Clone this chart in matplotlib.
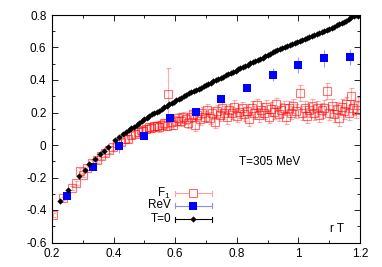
import matplotlib
matplotlib.use("Agg")
import matplotlib.pyplot as plt
from matplotlib.ticker import MultipleLocator, FuncFormatter
from matplotlib.lines import Line2D

plt.rcParams['font.family'] = ['Liberation Sans', 'DejaVu Sans']

# T=0 data
t0_r = [0.226, 0.251, 0.288, 0.306, 0.321, 0.340, 0.356, 0.369, 0.383, 0.405, 0.418, 0.431,
        0.440, 0.449, 0.458, 0.466, 0.475, 0.483, 0.492, 0.500, 0.508, 0.516, 0.524, 0.532,
        0.540, 0.548, 0.556, 0.564, 0.572, 0.580, 0.588, 0.596, 0.604, 0.612, 0.620, 0.628,
        0.636, 0.644, 0.652, 0.660, 0.668, 0.676, 0.684, 0.692, 0.700, 0.708, 0.716, 0.724,
        0.732, 0.740, 0.748, 0.756, 0.764, 0.772, 0.780, 0.788, 0.796, 0.804, 0.812, 0.820,
        0.828, 0.836, 0.844, 0.852, 0.860, 0.868, 0.876, 0.884, 0.892, 0.900, 0.908, 0.916,
        0.924, 0.932, 0.940, 0.948, 0.956, 0.964, 0.972, 0.980, 0.988, 0.996, 1.004, 1.012,
        1.020, 1.028, 1.036, 1.044, 1.052, 1.060, 1.068, 1.076, 1.084, 1.092, 1.100, 1.108,
        1.116, 1.124, 1.132, 1.140, 1.148, 1.156, 1.164, 1.172, 1.180, 1.186, 1.192]
t0_v = [-0.345, -0.279, -0.189, -0.152, -0.119, -0.086, -0.057, -0.035, -0.010, 0.031, 0.051, 0.070,
        0.082, 0.094, 0.106, 0.112, 0.126, 0.136, 0.148, 0.158, 0.165, 0.178, 0.188, 0.196,
        0.205, 0.212, 0.224, 0.232, 0.240, 0.250, 0.259, 0.266, 0.276, 0.284, 0.292, 0.302,
        0.309, 0.318, 0.324, 0.333, 0.340, 0.346, 0.353, 0.362, 0.369, 0.376, 0.384, 0.392,
        0.398, 0.406, 0.414, 0.420, 0.428, 0.434, 0.443, 0.450, 0.458, 0.466, 0.472, 0.480,
        0.486, 0.495, 0.502, 0.510, 0.516, 0.524, 0.530, 0.538, 0.545, 0.552, 0.560, 0.570,
        0.576, 0.584, 0.590, 0.598, 0.603, 0.610, 0.616, 0.622, 0.628, 0.633, 0.640, 0.645,
        0.650, 0.657, 0.664, 0.671, 0.678, 0.684, 0.690, 0.697, 0.704, 0.709, 0.716, 0.722,
        0.728, 0.738, 0.745, 0.752, 0.758, 0.766, 0.775, 0.786, 0.796, 0.802, 0.796]

# F1 data
f1_r = [0.204, 0.237, 0.264, 0.278, 0.291, 0.300, 0.315, 0.330, 0.345, 0.358, 0.372, 0.386,
        0.398, 0.412, 0.425, 0.436, 0.448, 0.458, 0.468, 0.478, 0.488, 0.497, 0.506, 0.515,
        0.523, 0.532, 0.540, 0.548, 0.556, 0.564, 0.572, 0.578, 0.586, 0.594, 0.602, 0.610,
        0.618, 0.626, 0.634, 0.642, 0.650, 0.658, 0.664, 0.672, 0.680, 0.688, 0.696, 0.704,
        0.712, 0.720, 0.728, 0.736, 0.744, 0.752, 0.760, 0.768, 0.776, 0.784, 0.792, 0.800,
        0.808, 0.816, 0.824, 0.832, 0.840, 0.848, 0.856, 0.864, 0.872, 0.880, 0.888, 0.896,
        0.904, 0.912, 0.920, 0.928, 0.936, 0.944, 0.952, 0.960, 0.968, 0.976, 0.984, 0.992,
        1.005, 1.012, 1.020, 1.028, 1.036, 1.044, 1.052, 1.060, 1.068, 1.076, 1.084, 1.094,
        1.100, 1.108, 1.116, 1.124, 1.132, 1.140, 1.148, 1.156, 1.164, 1.170, 1.178, 1.186,
        1.194]
f1_v = [-0.431, -0.328, -0.265, -0.236, -0.160, -0.185, -0.140, -0.110, -0.095, -0.070, -0.050, -0.030,
        -0.010, 0.010, 0.020, 0.035, 0.040, 0.060, 0.070, 0.080, 0.090, 0.085, 0.100, 0.110,
        0.105, 0.115, 0.120, 0.110, 0.125, 0.135, 0.118, 0.312, 0.140, 0.125, 0.150, 0.165,
        0.145, 0.170, 0.160, 0.135, 0.175, 0.190, 0.123, 0.185, 0.160, 0.200, 0.175, 0.215,
        0.165, 0.195, 0.140, 0.210, 0.185, 0.225, 0.200, 0.170, 0.215, 0.195, 0.235, 0.180,
        0.205, 0.225, 0.190, 0.210, 0.160, 0.230, 0.200, 0.245, 0.185, 0.215, 0.200, 0.235,
        0.175, 0.220, 0.205, 0.250, 0.190, 0.215, 0.230, 0.170, 0.225, 0.200, 0.240, 0.210,
        0.318, 0.195, 0.225, 0.180, 0.215, 0.240, 0.200, 0.225, 0.185, 0.215, 0.230, 0.332,
        0.200, 0.240, 0.190, 0.220, 0.165, 0.235, 0.210, 0.250, 0.200, 0.300, 0.230, 0.215,
        0.245]
f1_e = [0.010, 0.010, 0.012, 0.012, 0.020, 0.014, 0.014, 0.015, 0.015, 0.016, 0.016, 0.017,
        0.018, 0.018, 0.019, 0.020, 0.020, 0.021, 0.022, 0.022, 0.023, 0.024, 0.024, 0.025,
        0.025, 0.026, 0.026, 0.027, 0.027, 0.028, 0.028, 0.160, 0.029, 0.029, 0.030, 0.030,
        0.031, 0.031, 0.032, 0.032, 0.033, 0.033, 0.034, 0.034, 0.034, 0.035, 0.035, 0.035,
        0.036, 0.036, 0.036, 0.037, 0.037, 0.037, 0.038, 0.038, 0.038, 0.038, 0.039, 0.039,
        0.039, 0.039, 0.040, 0.040, 0.040, 0.040, 0.040, 0.041, 0.041, 0.041, 0.041, 0.041,
        0.042, 0.042, 0.042, 0.042, 0.042, 0.043, 0.043, 0.043, 0.043, 0.043, 0.044, 0.044,
        0.050, 0.044, 0.044, 0.045, 0.045, 0.045, 0.045, 0.045, 0.046, 0.046, 0.046, 0.050,
        0.046, 0.046, 0.047, 0.047, 0.047, 0.047, 0.047, 0.048, 0.048, 0.050, 0.048, 0.048,
        0.048]

# ReV data
rev_r = [0.250, 0.333, 0.417, 0.500, 0.583, 0.667, 0.750, 0.833, 0.917, 1.000, 1.083, 1.167]
rev_v = [-0.316, -0.135, -0.005, 0.055, 0.164, 0.205, 0.283, 0.353, 0.431, 0.492, 0.533, 0.540]
rev_e = [0.008, 0.010, 0.045, 0.010, 0.012, 0.015, 0.020, 0.020, 0.040, 0.050, 0.050, 0.050]

fig = plt.figure(figsize=(3.82, 2.67), dpi=100)
ax = fig.add_axes([52/382, 1 - 242.5/267, (360-52)/382, (242.5-15)/267])

ax.errorbar(f1_r, f1_v, yerr=f1_e, fmt='s', mfc='none', mec=(1, 0, 0, 0.55), ms=6, mew=0.8,
            ecolor=(1, 0.3, 0.3, 0.45), elinewidth=0.8, capsize=1.8, capthick=0.8, zorder=2)
ax.errorbar(rev_r, rev_v, yerr=rev_e, fmt='s', color='#0000ff', ms=5.5, mew=0,
            ecolor=(0.35, 0.35, 1, 0.6), elinewidth=0.8, capsize=2, capthick=0.8, zorder=3)
ax.errorbar(t0_r, t0_v, yerr=[0.004]*len(t0_r), fmt='D', color='black', ms=3.2, mew=0,
            ecolor='black', elinewidth=0.6, capsize=0.8, zorder=4)

ax.set_xlim(0.2, 1.2)
ax.set_ylim(-0.6, 0.8)
ax.xaxis.set_major_locator(MultipleLocator(0.2))
ax.xaxis.set_minor_locator(MultipleLocator(0.1))
ax.yaxis.set_major_locator(MultipleLocator(0.2))
ax.yaxis.set_minor_locator(MultipleLocator(0.1))
ax.tick_params(which='both', direction='in', top=True, right=True, labelsize=8.5, width=0.6)
ax.tick_params(which='major', length=4, pad=4)
ax.tick_params(which='minor', length=2)


def fmt(v, p):
    s = f'{v:.1f}'
    if s == '-0.0':
        s = '0'
    if s.endswith('.0'):
        s = s[:-2]
    return s


ax.xaxis.set_major_formatter(FuncFormatter(fmt))
ax.yaxis.set_major_formatter(FuncFormatter(fmt))
for sp in ax.spines.values():
    sp.set_linewidth(0.8)

ax.text((270-52)/308, 1 - (161.7-15)/227.5, 'T=305 MeV', transform=ax.transAxes,
        ha='center', va='center', fontsize=8.5)
ax.text((337-52)/308, 1 - (229-15)/227.5, 'r T', transform=ax.transAxes,
        ha='center', va='center', fontsize=8.5)

# legend (gnuplot style)
leg = [(r'F$_{\mathregular{1}}$', 193.3, dict(marker='s', mfc='white', mec='#ff6a6a', ms=6, mew=0.8), '#ffa0a0'),
       ('ReV', 205.5, dict(marker='s', mfc='#0000ff', mec='#0000ff', ms=5.5, mew=0), '#8c8cff'),
       ('T=0', 219.0, dict(marker='D', mfc='black', mec='black', ms=3.2, mew=0), 'black')]
x0, x1, xm = (175-52)/308, (212-52)/308, (193.3-52)/308
cap = 2.5/227.5
for label, ypx, mk, lc in leg:
    y = 1 - (ypx-15)/227.5
    ax.add_line(Line2D([x0, x1], [y, y], transform=ax.transAxes, color=lc, lw=0.8))
    for xx in (x0, x1):
        ax.add_line(Line2D([xx, xx], [y-cap, y+cap], transform=ax.transAxes, color=lc, lw=0.8))
    ax.add_line(Line2D([xm], [y], transform=ax.transAxes, ls='none', **mk))
    ax.text((171-52)/308, y, label, transform=ax.transAxes, ha='right', va='center', fontsize=8.5)

fig.savefig('out.png', dpi=100)
